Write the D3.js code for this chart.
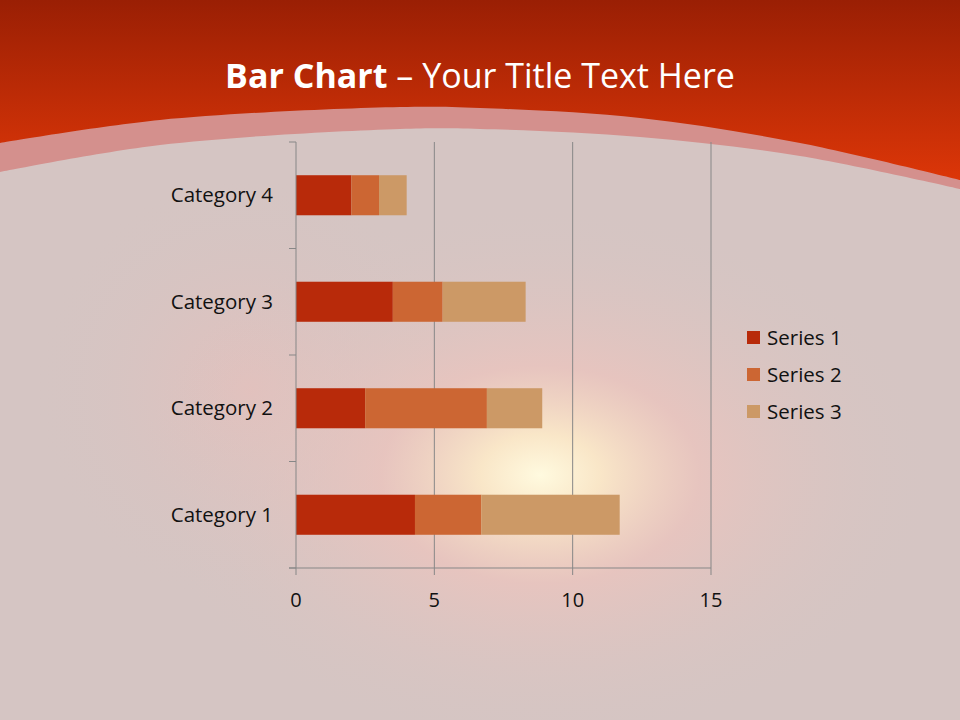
<!DOCTYPE html>
<html><head><meta charset="utf-8">
<script src="https://cdn.jsdelivr.net/npm/d3@7/dist/d3.min.js"></script>
<style>html,body{margin:0;padding:0;background:#d5c5c3;}svg{display:block;}</style>
</head><body>
<svg id="c" width="960" height="720"></svg>
<script>
const categories = ["Category 1", "Category 2", "Category 3", "Category 4"];
const seriesNames = ["Series 1", "Series 2", "Series 3"];
const series1 = [4.3, 2.5, 3.5, 2.0];
const series2 = [2.4, 4.4, 1.8, 1.0];
const series3 = [5.0, 2.0, 3.0, 1.0];
const xTicks = [0, 5, 10, 15];
const colors = ["#b82a0a", "#cc6633", "#cc9966"];

const svg = d3.select("#c");
const W = 960, H = 720;
const defs = svg.append("defs");

// background
const hdr = defs.append("linearGradient").attr("id","hdr").attr("x1",0).attr("y1",0).attr("x2",0).attr("y2",1);
hdr.append("stop").attr("offset","0%").attr("stop-color","#9a1f04");
hdr.append("stop").attr("offset","100%").attr("stop-color","#dc3608");
const glow = defs.append("radialGradient").attr("id","glow").attr("gradientUnits","userSpaceOnUse")
  .attr("cx",540).attr("cy",475).attr("r",320)
  .attr("gradientTransform","translate(540,475) scale(1.25,0.85) translate(-540,-475)");
glow.append("stop").attr("offset","0%").attr("stop-color","#fffadf").attr("stop-opacity",1);
glow.append("stop").attr("offset","15%").attr("stop-color","#fbe8c8").attr("stop-opacity",0.95);
glow.append("stop").attr("offset","40%").attr("stop-color","#eec4bd").attr("stop-opacity",0.7);
glow.append("stop").attr("offset","100%").attr("stop-color","#d5c5c3").attr("stop-opacity",0);
const glow2 = defs.append("radialGradient").attr("id","glow2").attr("gradientUnits","userSpaceOnUse")
  .attr("cx",250).attr("cy",390).attr("r",220);
glow2.append("stop").attr("offset","0%").attr("stop-color","#ecbdb8").attr("stop-opacity",0.6);
glow2.append("stop").attr("offset","100%").attr("stop-color","#d5c5c3").attr("stop-opacity",0);

svg.append("rect").attr("width",W).attr("height",H).attr("fill","#d5c5c3");
svg.append("rect").attr("width",W).attr("height",H).attr("fill","url(#glow2)");
svg.append("rect").attr("width",W).attr("height",H).attr("fill","url(#glow)");

const outerPts = [[0,143],[160,120],[400,107],[480,108],[640,118],[800,143],[960,180]];
const innerPts = [[0,172],[160,145],[400,129],[480,129],[640,137],[800,156],[960,189]];
const curve = d3.line().curve(d3.curveCatmullRom);
svg.append("path").attr("d", "M0,0 L960,0 " + curve(innerPts.slice().reverse()).replace(/^M/,"L") + " Z")
  .attr("fill","#d4908d");
svg.append("path").attr("d", "M0,0 L960,0 " + curve(outerPts.slice().reverse()).replace(/^M/,"L") + " Z")
  .attr("fill","url(#hdr)");

// title
const FONT = "'Open Sans', 'Noto Sans', sans-serif";
const title = svg.append("text").attr("x",480).attr("y",88).attr("text-anchor","middle")
  .attr("fill","#ffffff").style("font-family",FONT).style("font-size","34px");
title.append("tspan").attr("font-weight","bold").text("Bar Chart");
title.append("tspan").text(" \u2013 Your Title Text Here");

// scales
const x = d3.scaleLinear().domain([0,15]).range([296,711]);
const y = d3.scaleBand().domain(categories.slice().reverse()).range([142,568])
  .paddingInner(0.624).paddingOuter(0.312);
const axisColor = "#878787";

// gridlines
svg.append("g").selectAll("line").data(xTicks.filter(d=>d>0)).join("line")
  .attr("x1",d=>x(d)).attr("x2",d=>x(d)).attr("y1",142).attr("y2",568)
  .attr("stroke",axisColor).attr("stroke-width",1);

// stacked bars
const rows = categories.map((c,i)=>({cat:c, "Series 1":series1[i], "Series 2":series2[i], "Series 3":series3[i]}));
const stack = d3.stack().keys(seriesNames)(rows);
svg.append("g").selectAll("g").data(stack).join("g").attr("fill",(d,i)=>colors[i])
  .selectAll("rect").data(d=>d).join("rect")
  .attr("x",d=>x(d[0])).attr("width",d=>x(d[1])-x(d[0]))
  .attr("y",d=>y(d.data.cat)).attr("height",y.bandwidth());

// left axis
const step = y.step();
const boundaries = d3.range(categories.length+1).map(i=>142+i*step);
svg.append("line").attr("x1",296).attr("x2",296).attr("y1",142).attr("y2",568).attr("stroke",axisColor);
svg.append("g").selectAll("line").data(boundaries).join("line")
  .attr("x1",289).attr("x2",296).attr("y1",d=>d).attr("y2",d=>d).attr("stroke",axisColor);
svg.append("g").selectAll("text").data(categories).join("text")
  .attr("x",273).attr("y",d=>y(d)+y.bandwidth()/2+7).attr("text-anchor","end")
  .attr("fill","#111").style("font-family",FONT).style("font-size","20.5px").text(d=>d);

// bottom axis
svg.append("line").attr("x1",289).attr("x2",711).attr("y1",568).attr("y2",568).attr("stroke",axisColor);
svg.append("g").selectAll("line").data(xTicks).join("line")
  .attr("x1",d=>x(d)).attr("x2",d=>x(d)).attr("y1",568).attr("y2",575).attr("stroke",axisColor);
svg.append("g").selectAll("text").data(xTicks).join("text")
  .attr("x",d=>x(d)).attr("y",607).attr("text-anchor","middle")
  .attr("fill","#111").style("font-family",FONT).style("font-size","20px").text(d=>d);

// legend
const lg = svg.append("g").selectAll("g").data(seriesNames).join("g")
  .attr("transform",(d,i)=>`translate(747,${331+i*37})`);
lg.append("rect").attr("width",13).attr("height",13).attr("fill",(d,i)=>colors[i]);
lg.append("text").attr("x",20).attr("y",14).attr("fill","#111")
  .style("font-family",FONT).style("font-size","20.5px").text(d=>d);
</script>
</body></html>
